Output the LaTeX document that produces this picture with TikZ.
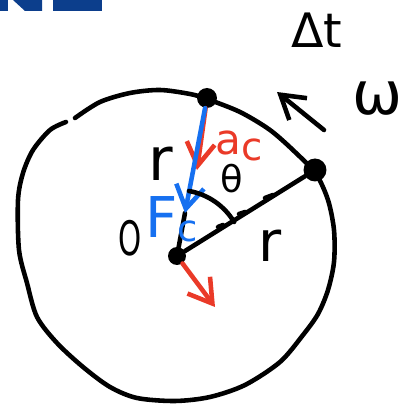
\documentclass[tikz,border=0pt]{standalone}
\usepackage{fontspec}
\setmainfont{DejaVu Sans}
\usetikzlibrary{arrows.meta,positioning}
\definecolor{inkred}{RGB}{234,58,40}
\definecolor{inkblue}{RGB}{22,112,240}
\definecolor{logoblue}{RGB}{12,62,140}
\newcommand{\handsize}[1]{\fontsize{#1}{#1}\selectfont}

\begin{document}
\begin{tikzpicture}[
    x=0.02cm, y=-0.02cm,
    pen/.style={line width=2.6pt, line cap=round, line join=round},
    dot/.style={circle, fill=black, inner sep=0pt, minimum size=0.4cm},
    vec/.style={pen, -{Straight Barb[length=13pt, width=16pt, line width=2.6pt]}},
    hand/.style={inner sep=0pt, anchor=base west}
]
\useasboundingbox (0,0) rectangle (410,405);

% logo fragment
\fill[logoblue] (0,0) rectangle (8,11);
\fill[logoblue] (13,0) -- (42,0) -- (42,11) -- (25,11) -- cycle;
\fill[logoblue] (53,0) rectangle (102,11);

% the circle, drawn by hand
\draw[pen] plot[smooth] coordinates {(75,118) (100,102) (130,93) (160,90)
  (190,94) (207,99) (240,112) (270,130) (295,152) (316,174) (328,200)
  (334,230) (334,262) (328,290) (318,314) (303,335) (280,362) (245,385)
  (210,397) (175,401) (137,398) (110,387) (83,367) (57,343) (37,317)
  (27,283) (19,250) (18,200) (23,173) (33,150) (50,130) (66,122)};

\node[dot, minimum size=0.36cm] (o) at (177,256) {};
\node[dot] (top) at (207,98) {};
\node[dot, minimum size=0.46cm] (right) at (315,170) {};

\coordinate (actip) at (197,170);
\coordinate (fctip) at (185,213);
\coordinate (vtip) at (215,307);
\coordinate (wtail) at (324,130);
\coordinate (whead) at (277,92);

\draw[pen] (o) -- (right);
\draw[pen] (o) -- (fctip);
\draw[vec, inkred] (top) -- (actip);
\draw[vec, inkblue] (top) -- (fctip);
\draw[vec, inkred] (o) -- (vtip);
\draw[vec] (wtail) -- (whead);

% angle and little marks on the radius
\draw[pen] (189,191) arc[start angle=-80, end angle=-31, radius=66];
\draw[pen] (218,227) -- (223,225);
\draw[pen] (239,214) -- (245,212);
\draw[pen] (265,198) -- (273,195);

\node[hand, font=\handsize{27}] (dt) at (291,48) {Δt};
\node[hand, font=\handsize{34}] (omega) at (352,115) {ω};
\node[hand, font=\handsize{34}] (rleft) at (148,181) {r};
\node[hand, font=\handsize{32}] (rright) at (258,262) {r};
\node[hand, font=\handsize{21}] (theta) at (220,193) {θ};
\node[hand, font=\handsize{24}, text=inkred] (ac) at (215,155) {a\raisebox{-3pt}{\handsize{22}c}};
\node[hand, font=\handsize{32}, text=inkblue] (fc) at (145,238) {F\raisebox{-2pt}{\handsize{21}c}};
\node[hand, font=\handsize{27}] (olabel) at (118,256) {\scalebox{0.62}[1]{O}};
\end{tikzpicture}
\end{document}
